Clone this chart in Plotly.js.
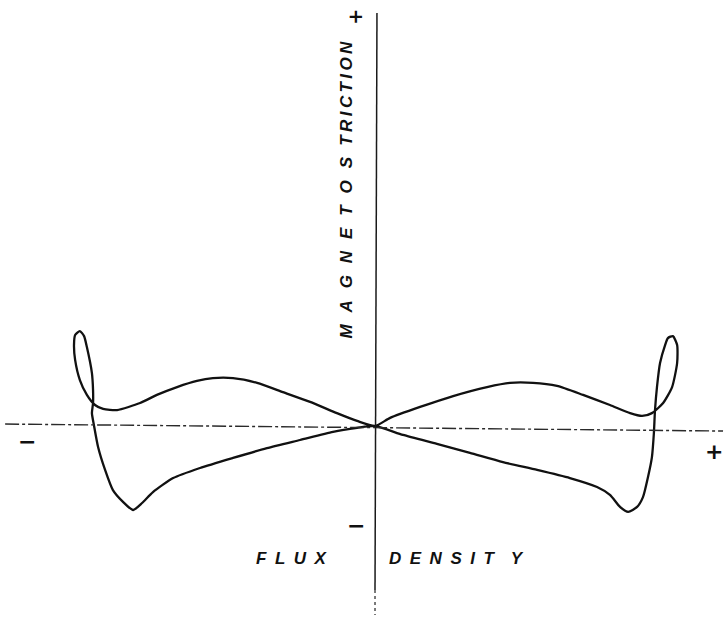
<!DOCTYPE html>
<html>
<head>
<meta charset="utf-8">
<script src="https://cdn.plot.ly/plotly-3.0.1.min.js"></script>
<style>
  html, body { margin: 0; padding: 0; background: #ffffff; }
  #chart { width: 724px; height: 632px; }
</style>
</head>
<body>
<div id="chart"></div>
<script>
// Magnetostriction "butterfly" loop against flux density (arbitrary units,
// flux density normalised so the loop tips sit near +/-100).
// The closed path runs: origin -> lower-left branch -> left tip loop ->
// upper-left branch -> origin -> upper-right branch -> right tip loop ->
// lower-right branch -> origin.
const fluxDensity = [
  0, -6.4, -15.0, -26.8, -38.6, -50.7, -62.5, -72.1, -79.3, -83.2, -86.4,
  -90.0, -93.6, -96.4, -98.9, -100.4, -101.1, -100.7, -100.7, -101.1, -102.9,
  -103.9, -105.4, -107.1, -107.5, -107.1, -105.4, -102.9, -100.0, -97.1, -92.1,
  -83.9, -77.9, -70.7, -63.6, -57.9, -50.7, -42.1, -32.9, -23.2, -13.6, -6.4, 0,
  5.4, 16.1, 27.9, 40.0, 48.2, 56.4, 65.0, 74.3, 83.9, 91.1, 95.4, 98.9,
  102.9, 106.1, 107.9, 107.9, 106.4, 104.6, 103.6, 101.8, 100.7, 100.0,
  99.6, 98.9, 97.5, 95.7, 93.6, 90.4, 87.5, 83.9, 79.3, 69.6, 57.9, 45.7,
  33.9, 22.1, 10.0, 0
];
const magnetostriction = [
  0, -0.7, -2.1, -5.0, -7.9, -11.4, -15.0, -18.6, -23.6, -27.5, -30.0,
  -27.1, -22.9, -15.7, -7.5, 0.4, 4.6, 8.2, 12.9, 18.9, 28.2,
  32.1, 33.9, 32.5, 28.9, 23.6, 16.4, 11.1, 7.5, 6.1, 5.7,
  8.2, 11.1, 13.9, 16.1, 17.1, 17.1, 15.4, 12.1, 8.6, 4.6, 1.8, 0,
  2.9, 6.8, 10.7, 13.9, 15.4, 15.4, 14.3, 11.1, 7.5, 4.6, 3.6, 4.6,
  8.2, 13.9, 22.5, 28.9, 32.1, 31.4, 28.9, 22.5, 13.9, 5.7,
  -2.5, -11.1, -18.2, -25.4, -28.9, -30.7, -28.9, -24.6, -21.8, -18.6, -15.7, -12.9,
  -9.6, -6.4, -3.2, 0
];

// Axis labels as lettered on the sheet (letters spread out by hand)
const wide = '\u2002\u2009';
const thin = '\u2009';
const yLabelParts = [
  ['M', 'A', 'G', 'N', 'E', 'T', 'O', 'S'].join(wide),
  ['T', 'R', 'I', 'C', 'T', 'I', 'O', 'N'].join(thin)
];
const xLabelParts = [
  ['F', 'L', 'U', 'X'].join('\u2002'),
  ['D', 'E', 'N', 'S', 'I', 'T'].join('\u2002') + '\u2002\u2002Y'
];
const signLabels = { neg: '\u2212', pos: '+' };

const ink = '#111111';
const letterFont = { family: 'Liberation Sans, Arial, sans-serif', size: 17, color: ink,
                     style: 'italic', weight: 'bold' };
const signFont = { family: 'DejaVu Sans, sans-serif', size: 22, color: ink, weight: 'bold' };

const loop = {
  x: fluxDensity,
  y: magnetostriction,
  type: 'scatter',
  mode: 'lines',
  line: { color: ink, width: 2.3, shape: 'spline', smoothing: 0.6 },
  hoverinfo: 'skip'
};

const layout = {
  width: 724,
  height: 632,
  autosize: false,
  margin: { l: 0, r: 0, t: 0, b: 0, pad: 0 },
  paper_bgcolor: '#ffffff',
  plot_bgcolor: '#ffffff',
  showlegend: false,
  xaxis: {
    range: [-133.93, 124.64],
    visible: false,
    zeroline: false,
    showgrid: false,
    fixedrange: true
  },
  yaxis: {
    range: [-73.57, 152.14],
    visible: false,
    zeroline: false,
    showgrid: false,
    fixedrange: true
  },
  shapes: [
    // hand-ruled flux-density axis (slightly off level, broken ink)
    { type: 'line', xref: 'x', yref: 'y', x0: -132.1, y0: 0.7, x1: 124.3, y1: -1.8,
      line: { color: '#2a2a2a', width: 1.4, dash: '14px,3px,3px,3px' } },
    // magnetostriction axis
    { type: 'line', xref: 'x', yref: 'y', x0: 0.7, y0: 147.5, x1: 0, y1: -58.6,
      line: { color: '#1a1a1a', width: 1.5 } },
    { type: 'line', xref: 'x', yref: 'y', x0: 0, y0: -58.6, x1: 0, y1: -67.5,
      line: { color: '#333333', width: 1.3, dash: 'dot' } }
  ],
  annotations: [
    { text: yLabelParts[0], xref: 'paper', yref: 'paper', x: 0.479, y: 0.608,
      xanchor: 'center', yanchor: 'middle', textangle: -90, showarrow: false, font: letterFont },
    { text: yLabelParts[1], xref: 'paper', yref: 'paper', x: 0.479, y: 0.853,
      xanchor: 'center', yanchor: 'middle', textangle: -90, showarrow: false, font: letterFont },
    { text: signLabels.pos, xref: 'paper', yref: 'paper', x: 0.490, y: 0.973,
      xanchor: 'center', yanchor: 'middle', textangle: -90, showarrow: false,
      font: { family: 'DejaVu Sans, sans-serif', size: 19, color: ink, weight: 'bold' } },
    { text: xLabelParts[0], xref: 'paper', yref: 'paper', x: 0.403, y: 0.116,
      xanchor: 'center', yanchor: 'middle', showarrow: false, font: letterFont },
    { text: xLabelParts[1], xref: 'paper', yref: 'paper', x: 0.630, y: 0.116,
      xanchor: 'center', yanchor: 'middle', showarrow: false, font: letterFont },
    { text: signLabels.neg, xref: 'paper', yref: 'paper', x: 0.037, y: 0.301,
      xanchor: 'center', yanchor: 'middle', showarrow: false, font: signFont },
    { text: signLabels.pos, xref: 'paper', yref: 'paper', x: 0.986, y: 0.286,
      xanchor: 'center', yanchor: 'middle', showarrow: false, font: signFont },
    { text: signLabels.neg, xref: 'paper', yref: 'paper', x: 0.492, y: 0.169,
      xanchor: 'center', yanchor: 'middle', showarrow: false, font: signFont }
  ]
};

Plotly.newPlot('chart', [loop], layout, { staticPlot: true, displayModeBar: false });
</script>
</body>
</html>
